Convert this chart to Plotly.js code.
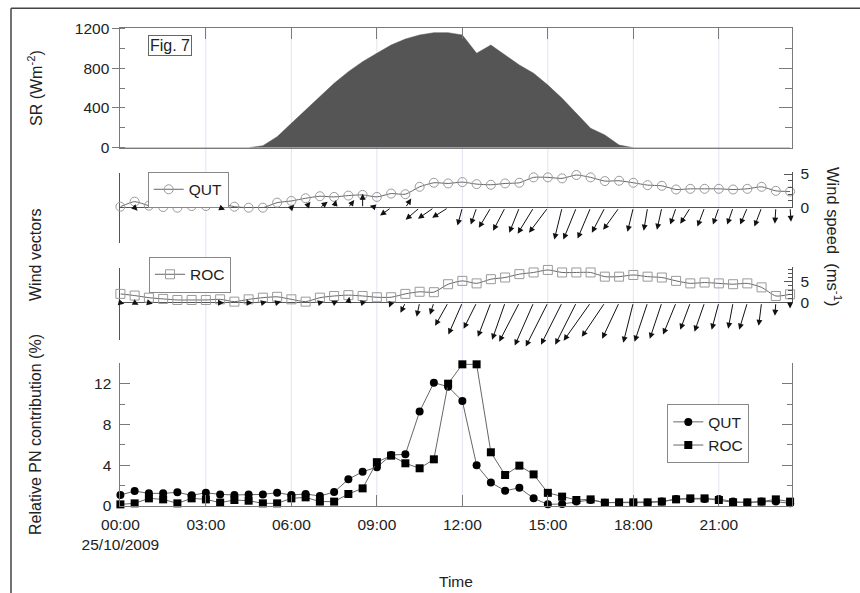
<!DOCTYPE html>
<html>
<head>
<meta charset="utf-8">
<script src="https://cdn.plot.ly/plotly-3.0.1.min.js"></script>
<style>
  html, body { margin: 0; padding: 0; background: #fff; }
  #chart { width: 860px; height: 593px; }
</style>
</head>
<body>
<div id="chart"></div>
<script>
// Half-hourly time base (hours after midnight, 25/10/2009)
const hours = [0,0.5,1,1.5,2,2.5,3,3.5,4,4.5,5,5.5,6,6.5,7,7.5,8,8.5,9,9.5,10,10.5,11,11.5,
               12,12.5,13,13.5,14,14.5,15,15.5,16,16.5,17,17.5,18,18.5,19,19.5,20,20.5,21,21.5,22,22.5,23,23.5];

// Time axis ticks
const tickHours  = [0, 3, 6, 9, 12, 15, 18, 21];
const tickLabels = ['00:00<br>25/10/2009', '03:00', '06:00', '09:00', '12:00', '15:00', '18:00', '21:00'];

// Solar radiation (W m-2)
const srValues = [0,0,0,0,0,0,0,0,0,0,20,110,245,379,513,647,764,865,949,1032,1092,1133,1156,1156,
                  1133,949,1032,932,831,748,630,496,346,195,128,27,0,0,0,0,0,0,0,0,0,0,0,0];

// Wind speed (m s-1)
const qutSpeed = [0.15,0.9,0.3,0.1,0,0.25,0.25,0.65,0.15,0,0,0.75,1.0,1.4,1.7,1.6,1.8,1.9,1.6,2.1,2.0,3.1,3.7,3.6,
                  3.8,3.5,3.4,3.6,3.7,4.5,4.5,4.35,4.85,4.5,3.95,4.0,3.7,3.35,3.25,2.7,2.8,2.8,2.8,2.7,2.8,3.1,2.5,2.4];
const rocSpeed = [2.1,1.7,1.2,0.9,0.65,0.65,0.65,0.8,0.25,0.8,1.2,1.4,0.8,0.25,1.2,1.6,1.8,1.6,1.3,1.3,2.1,2.6,2.5,4.4,
                  5.2,4.6,5.6,6.0,6.8,7.2,7.8,7.2,7.2,7.2,6.2,6.2,6.6,6.2,6.0,5.2,4.6,4.8,4.6,4.4,4.6,3.65,1.6,2.0];

// Wind vector components (m s-1): u eastward, v northward
const qutU = [0.3,0.45,0.3,0.3,0.3,0.3,0.45,0.75,0.3,0.15,0.3,0.45,0.45,0.75,1.2,0.3,0.9,0,-1.1,-1.7,0.9,-2.15,-2.45,-2.45,
              -0.75,-0.9,-1.85,-1.85,-1.55,-2.45,-2.9,-1.2,-2.0,-2.0,-2.0,-2.45,-0.9,-0.6,-0.75,-0.9,-1.55,-1.1,-0.9,-0.9,-1.1,-1.1,-0.15,0.15];
const qutV = [-0.15,-0.45,-0.15,0,0.15,-0.15,0,-0.3,-0.15,0,0.15,-0.15,0.45,0.9,0.9,1.2,1.2,2.15,0.3,-1.2,1.4,-1.85,-1.7,-1.55,
              -2.75,-2.6,-3.1,-3.55,-3.85,-4.0,-3.85,-4.9,-4.9,-4.75,-3.85,-3.4,-3.7,-3.55,-3.4,-2.6,-2.45,-2.9,-2.6,-2.6,-2.6,-2.9,-2.45,-2.15];
const rocU = [0.6,0.6,0.6,0.45,0.45,0.45,0.45,0.6,0.3,0.6,0.6,0.6,0.45,0,0.6,0.6,0.15,0.6,0.45,-0.3,-0.75,-0.45,-0.6,-2.0,
              -2.15,-2.0,-2.0,-2.0,-3.1,-2.9,-3.4,-3.25,-3.25,-4.15,-3.55,-2.6,-1.55,-2.0,-1.85,-2.0,-1.55,-1.55,-1.1,-0.75,-1.25,-0.45,-0.15,0];
const rocV = [-0.15,-0.3,-0.15,-0.15,0,-0.15,-0.15,0,-0.3,0,0.15,0.15,-0.15,-0.3,0.15,0.3,0.9,0.15,-0.15,-0.75,-1.55,-2.15,-1.85,-3.55,
              -4.9,-4.0,-5.25,-5.7,-6.0,-6.6,-6.75,-6.45,-6.45,-5.85,-5.25,-5.55,-6.15,-6.0,-5.55,-4.9,-4.15,-4.45,-4.15,-4.0,-4.15,-3.55,-2.0,-0.9];

// Relative PN contribution (%)
const pnQut = [1.08,1.47,1.24,1.24,1.34,1.05,1.3,1.14,1.08,1.14,1.14,1.3,1.08,1.18,0.98,1.37,2.62,3.37,3.8,5.0,
               5.07,9.26,12.1,11.7,10.3,4.0,2.3,1.5,1.78,0.75,0.16,0.2,0.43,0.59,0.33,0.33,0.33,0.33,0.43,0.69,
               0.69,0.69,0.69,0.43,0.33,0.43,0.43,0.26];
const pnRoc = [0.16,0.26,0.75,0.65,0.26,0.75,0.65,0.33,0.59,0.52,0.26,0.26,0.75,0.85,0.43,0.43,1.18,1.73,4.3,4.94,
               4.19,3.7,4.58,12.0,13.9,13.9,5.27,3.04,3.96,3.1,1.29,0.92,0.59,0.65,0.33,0.36,0.36,0.36,0.43,0.65,
               0.75,0.75,0.59,0.36,0.36,0.43,0.65,0.43];

// ---- page geometry (pixels) ----
const W = 860, H = 593;
const fx = p => p / W;
const fy = p => 1 - p / H;
const PLOT_L = 120.4, PLOT_R = 791.5, X_MAX = 23.55;
const pxPerHour = (PLOT_R - PLOT_L) / X_MAX;
const VEC_PX = 6.5;                       // pixels per m s-1 for wind arrows
const xDomain = [fx(PLOT_L), fx(PLOT_R)];

const SR_TOP = 28.3, SR_BOT = 147.7;
const Q_TOP = 172.7, Q_BASE = 207.7, Q_BOT = 242.7, Q_SPD_TOP = 171.7;
const R_TOP = 268.3, R_BASE = 302.7, R_BOT = 340, R_SPD_TOP = 266.7;
const PN_TOP = 363.3, PN_BOT = 506;

const FONT = 'Liberation Sans, Arial, sans-serif';
const TXT = '#222';
const AX = '#7a7a7a';
const DARK = '#555';
const tickFont = {family: FONT, size: 15.5, color: TXT};

const baseX = {domain: xDomain, range: [0, X_MAX], showgrid: false, zeroline: false, fixedrange: true};

const traces = [
  {x: hours, y: srValues, xaxis: 'x', yaxis: 'y', mode: 'lines', fill: 'tozeroy',
   fillcolor: '#555555', line: {color: '#555555', width: 0.5}, showlegend: false, hoverinfo: 'skip'},
  {x: [], y: [], xaxis: 'x', yaxis: 'y5', showlegend: false},
  {x: [], y: [], xaxis: 'x2', yaxis: 'y2', showlegend: false},
  {x: hours, y: qutSpeed, xaxis: 'x2', yaxis: 'y3', mode: 'lines+markers', name: 'QUT', legend: 'legend2',
   line: {color: '#666', width: 1, shape: 'spline', smoothing: 0.6},
   marker: {symbol: 'circle-open', size: 9, color: '#9a9a9a', line: {width: 1}}, cliponaxis: false},
  {x: [], y: [], xaxis: 'x3', yaxis: 'y4', showlegend: false},
  {x: hours, y: rocSpeed, xaxis: 'x3', yaxis: 'y6', mode: 'lines+markers', name: 'ROC', legend: 'legend3',
   line: {color: '#666', width: 1, shape: 'spline', smoothing: 0.6},
   marker: {symbol: 'square-open', size: 9, color: '#9a9a9a', line: {width: 1}}, cliponaxis: false},
  {x: hours, y: pnQut, xaxis: 'x4', yaxis: 'y7', mode: 'lines+markers', name: 'QUT', legend: 'legend',
   line: {color: '#666', width: 1}, marker: {symbol: 'circle', size: 8, color: '#000'}, cliponaxis: false},
  {x: hours, y: pnRoc, xaxis: 'x4', yaxis: 'y7', mode: 'lines+markers', name: 'ROC', legend: 'legend',
   line: {color: '#666', width: 1}, marker: {symbol: 'square', size: 8, color: '#000'}, cliponaxis: false}
];

// wind arrows: tail on the zero line at each time, head at (u, v)
function windArrows(u, v, xa, ya) {
  return hours.map((t, i) => ({
    xref: xa, yref: ya, axref: xa, ayref: ya,
    x: t + u[i] * VEC_PX / pxPerHour, y: v[i], ax: t, ay: 0,
    text: '', showarrow: true, arrowhead: 2, arrowsize: 1.2, arrowwidth: 1,
    arrowcolor: '#111', standoff: 0, startstandoff: 0
  }));
}

const textNotes = [
  {xref: 'paper', yref: 'paper', x: fx(169.7), y: fy(45.5), text: 'Fig. 7', showarrow: false,
   font: {family: FONT, size: 16, color: TXT}, bordercolor: '#666', borderwidth: 1, borderpad: 1,
   bgcolor: '#fff', xanchor: 'center', yanchor: 'middle'},
  {xref: 'paper', yref: 'paper', x: fx(35), y: fy(88), text: 'SR (Wm<sup>-2</sup>)', showarrow: false,
   textangle: -90, font: {family: FONT, size: 16, color: TXT}, xanchor: 'center', yanchor: 'middle'},
  {xref: 'paper', yref: 'paper', x: fx(35), y: fy(255), text: 'Wind vectors', showarrow: false,
   textangle: -90, font: {family: FONT, size: 16, color: TXT}, xanchor: 'center', yanchor: 'middle'},
  {xref: 'paper', yref: 'paper', x: fx(35), y: fy(435), text: 'Relative PN contribution (%)', showarrow: false,
   textangle: -90, font: {family: FONT, size: 16, color: TXT}, xanchor: 'center', yanchor: 'middle'},
  {xref: 'paper', yref: 'paper', x: fx(834), y: fy(237), text: 'Wind speed  (ms<sup>-1</sup>)', showarrow: false,
   textangle: 90, font: {family: FONT, size: 16.5, color: TXT}, xanchor: 'center', yanchor: 'middle'},
  {xref: 'paper', yref: 'paper', x: fx(456), y: fy(581), text: 'Time', showarrow: false,
   font: {family: FONT, size: 15.5, color: TXT}, xanchor: 'center', yanchor: 'middle'}
];

// vertical guide lines through all panels, plus the outer frame
const shapes = tickHours.filter(h => h > 0).map(h => ({
  type: 'line', xref: 'x', yref: 'paper', x0: h, x1: h, y0: fy(PN_BOT), y1: fy(SR_TOP),
  line: {color: '#e3e3f3', width: 1}, layer: 'below'
}));
shapes.push(
  {type: 'line', xref: 'paper', yref: 'paper', x0: fx(11), x1: 1, y0: fy(8.3), y1: fy(8.3), line: {color: '#444', width: 1.5}},
  {type: 'line', xref: 'paper', yref: 'paper', x0: fx(11), x1: fx(11), y0: fy(8.3), y1: 0, line: {color: '#444', width: 1.5}}
);

const legendBase = {xanchor: 'left', yanchor: 'top', bgcolor: '#fff', bordercolor: '#888', borderwidth: 1,
                    font: {family: FONT, size: 15.5, color: TXT}, itemwidth: 30, tracegroupgap: 0};

const layout = {
  width: W, height: H,
  margin: {l: 0, r: 0, t: 0, b: 0, pad: 0},
  paper_bgcolor: '#fff', plot_bgcolor: 'rgba(0,0,0,0)',
  font: {family: FONT, size: 15.5, color: TXT},
  showlegend: true,
  // solar radiation panel
  xaxis: Object.assign({}, baseX, {anchor: 'y', side: 'top', showline: true, mirror: true, linecolor: AX,
    tickmode: 'array', tickvals: tickHours, ticks: 'inside', ticklen: 11, tickcolor: AX, showticklabels: false}),
  yaxis: {domain: [fy(SR_BOT), fy(SR_TOP)], range: [0, 1200], anchor: 'x', showline: true, mirror: true,
    linecolor: AX, ticks: 'outside', ticklen: 7, tickcolor: AX, dtick: 400, tick0: 0,
    minor: {dtick: 200, ticks: 'inside', ticklen: 5, tickcolor: AX}, showgrid: false, zeroline: false,
    tickfont: tickFont, fixedrange: true},
  yaxis5: {overlaying: 'y', side: 'right', anchor: 'x', range: [0, 1200], showline: false, showgrid: false,
    zeroline: false, ticks: 'inside', ticklen: 13, tickcolor: AX, dtick: 400, tick0: 0, showticklabels: false,
    minor: {dtick: 200, ticks: 'inside', ticklen: 7, tickcolor: AX}, fixedrange: true},
  // QUT wind panel
  xaxis2: Object.assign({}, baseX, {anchor: 'y2', visible: false}),
  yaxis2: {domain: [fy(Q_BOT), fy(Q_TOP)], anchor: 'x2',
    range: [-(Q_BOT - Q_BASE) / VEC_PX, (Q_BASE - Q_TOP) / VEC_PX],
    showline: true, linecolor: DARK, ticks: '', showticklabels: false, showgrid: false,
    zeroline: true, zerolinecolor: DARK, zerolinewidth: 1.5, fixedrange: true},
  yaxis3: {domain: [fy(Q_BASE), fy(Q_SPD_TOP)], anchor: 'x2', side: 'right',
    range: [0, 5 * (Q_BASE - Q_SPD_TOP) / (Q_BASE - 174)],
    showline: true, linecolor: DARK, ticks: 'inside', ticklen: 8, tickcolor: DARK, dtick: 5, tick0: 0,
    minor: {dtick: 1, ticks: 'inside', ticklen: 4, tickcolor: DARK}, ticklabelstandoff: 5,
    showgrid: false, zeroline: false, tickfont: tickFont, fixedrange: true},
  // ROC wind panel
  xaxis3: Object.assign({}, baseX, {anchor: 'y4', visible: false}),
  yaxis4: {domain: [fy(R_BOT), fy(R_TOP)], anchor: 'x3',
    range: [-(R_BOT - R_BASE) / VEC_PX, (R_BASE - R_TOP) / VEC_PX],
    showline: true, linecolor: DARK, ticks: '', showticklabels: false, showgrid: false,
    zeroline: true, zerolinecolor: DARK, zerolinewidth: 1.5, fixedrange: true},
  yaxis6: {domain: [fy(R_BASE), fy(R_SPD_TOP)], anchor: 'x3', side: 'right',
    range: [0, 5 * (R_BASE - R_SPD_TOP) / (R_BASE - 281.7)],
    showline: true, linecolor: DARK, ticks: 'inside', ticklen: 8, tickcolor: DARK, dtick: 5, tick0: 0,
    minor: {dtick: 1, ticks: 'inside', ticklen: 4, tickcolor: DARK}, ticklabelstandoff: 5,
    showgrid: false, zeroline: false, tickfont: tickFont, fixedrange: true},
  // PN contribution panel
  xaxis4: Object.assign({}, baseX, {anchor: 'y7', showline: true, linecolor: AX,
    tickmode: 'array', tickvals: tickHours, ticktext: tickLabels, ticks: 'inside', ticklen: 11,
    tickcolor: AX, ticklabelstandoff: 4, tickfont: tickFont}),
  yaxis7: {domain: [fy(PN_BOT), fy(PN_TOP)], range: [0, 14], anchor: 'x4', showline: true, mirror: 'ticks',
    linecolor: AX, ticks: 'inside', ticklen: 10, tickcolor: AX, dtick: 4, tick0: 0,
    minor: {dtick: 2, ticks: 'inside', ticklen: 5, tickcolor: AX}, ticklabelstandoff: 5,
    showgrid: false, zeroline: false, tickfont: tickFont, fixedrange: true},
  legend:  Object.assign({}, legendBase, {x: fx(667.3), y: fy(404.3)}),
  legend2: Object.assign({}, legendBase, {x: fx(147.7), y: fy(171.7)}),
  legend3: Object.assign({}, legendBase, {x: fx(149), y: fy(256.7)}),
  shapes: shapes,
  annotations: textNotes
    .concat(windArrows(qutU, qutV, 'x2', 'y2'))
    .concat(windArrows(rocU, rocV, 'x3', 'y4'))
};

Plotly.newPlot('chart', traces, layout, {displayModeBar: false, staticPlot: true});
</script>
</body>
</html>
